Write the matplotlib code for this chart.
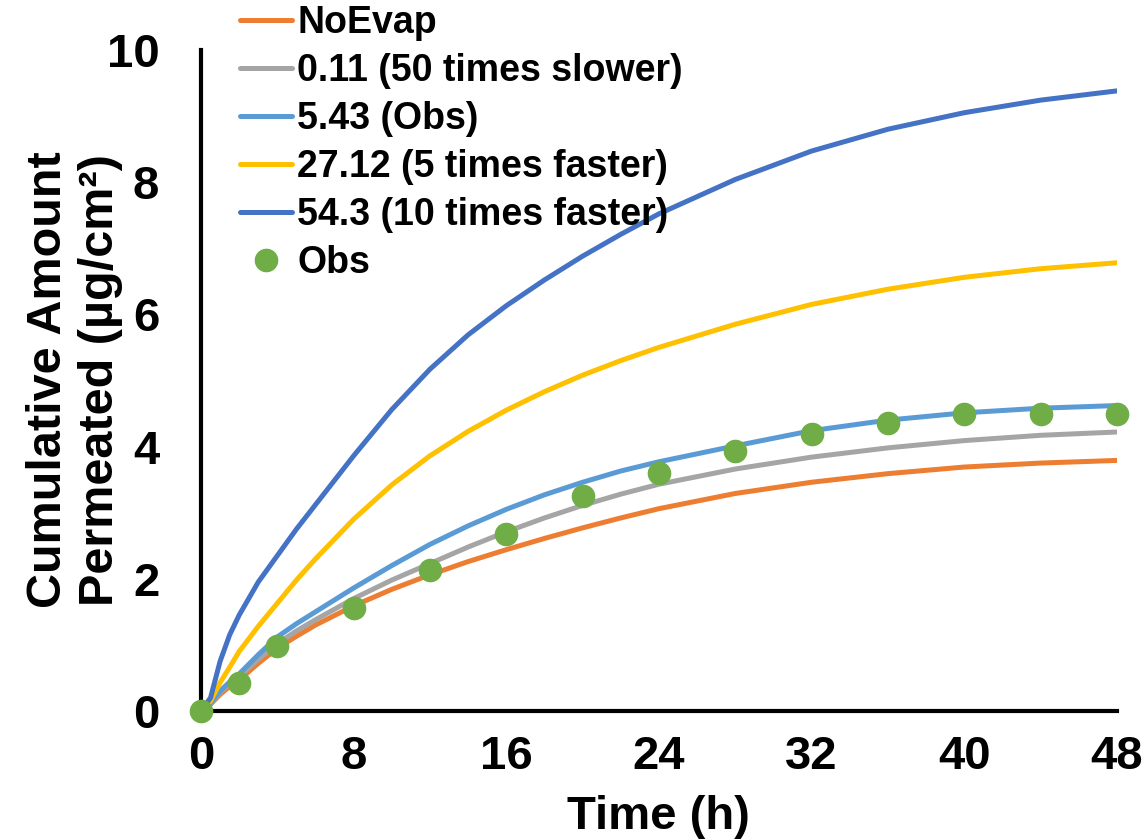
import matplotlib
matplotlib.use("Agg")
import matplotlib.pyplot as plt

plt.rcParams['font.family'] = ['Liberation Sans', 'DejaVu Sans']
plt.rcParams['font.weight'] = 'bold'

# model time grid (h)
t_model = [0, 0.5, 1, 1.5, 2, 3, 4, 5, 6, 8, 10, 12, 14, 16, 18, 20, 22, 24, 28, 32, 36, 40, 44, 48]

# cumulative amount permeated (ug/cm2)
no_evap = [0, 0.10, 0.25, 0.37, 0.47, 0.72, 0.95, 1.13, 1.30, 1.59, 1.84, 2.06, 2.26, 2.44,
           2.61, 2.77, 2.92, 3.06, 3.29, 3.46, 3.59, 3.69, 3.75, 3.79]
slower_50 = [0, 0.11, 0.28, 0.41, 0.52, 0.78, 1.02, 1.21, 1.38, 1.70, 1.98, 2.23, 2.48, 2.71,
             2.92, 3.11, 3.28, 3.43, 3.66, 3.84, 3.98, 4.09, 4.17, 4.22]
obs_rate = [0, 0.12, 0.30, 0.44, 0.56, 0.85, 1.12, 1.32, 1.50, 1.86, 2.20, 2.52, 2.80, 3.05,
            3.27, 3.46, 3.63, 3.77, 4.01, 4.24, 4.40, 4.51, 4.58, 4.62]
faster_5 = [0, 0.15, 0.43, 0.66, 0.90, 1.28, 1.63, 1.98, 2.30, 2.90, 3.42, 3.86, 4.23, 4.55,
            4.83, 5.08, 5.30, 5.50, 5.85, 6.15, 6.38, 6.56, 6.69, 6.78]
faster_10 = [0, 0.20, 0.75, 1.15, 1.45, 1.95, 2.35, 2.75, 3.12, 3.86, 4.56, 5.17, 5.69, 6.13,
             6.52, 6.88, 7.21, 7.52, 8.04, 8.47, 8.80, 9.05, 9.24, 9.38]

# observed data
obs_t = [0, 2, 4, 8, 12, 16, 20, 24, 28, 32, 36, 40, 44, 48]
obs_y = [0, 0.42, 0.99, 1.56, 2.13, 2.68, 3.25, 3.60, 3.93, 4.19, 4.36, 4.49, 4.49, 4.49]

series = [
    ("NoEvap", no_evap, "#ED7D31"),
    ("0.11 (50 times slower)", slower_50, "#A5A5A5"),
    ("5.43 (Obs)", obs_rate, "#5B9BD5"),
    ("27.12 (5 times faster)", faster_5, "#FFC000"),
    ("54.3 (10 times faster)", faster_10, "#4472C4"),
]

fig = plt.figure(figsize=(11.42, 8.4), dpi=100)
ax = fig.add_axes([0.176, 0.1536, 0.802, 0.787])

for label, vals, color in series:
    ax.plot(t_model, vals, color=color, lw=3.6, label=label,
            solid_capstyle='round', solid_joinstyle='round')
ax.plot(obs_t, obs_y, 'o', color="#70AD47", ms=16, label="Obs", clip_on=False, zorder=5)

ax.set_xlim(0, 48)
ax.set_ylim(0, 10)
ax.set_xticks(range(0, 49, 8))
ax.set_yticks(range(0, 11, 2))
ax.tick_params(length=0, labelsize=34)
ax.tick_params(axis='x', pad=17)
ax.tick_params(axis='y', pad=30)
for lab in ax.get_xticklabels() + ax.get_yticklabels():
    lab.set_fontweight('bold')

for side in ['top', 'right']:
    ax.spines[side].set_visible(False)
for side in ['left', 'bottom']:
    ax.spines[side].set_linewidth(3)
    ax.spines[side].set_color('black')

ax.set_xlabel("Time (h)", fontsize=34, fontweight='bold', labelpad=12)
fig.text(0.0655, 0.5476, "Cumulative Amount\nPermeated (µg/cm²)", fontsize=35,
         fontweight='bold', rotation=90, ha='center', va='center',
         multialignment='center', linespacing=1.2)

fig.legend(loc='upper left', bbox_to_anchor=(0.197, 1.012), frameon=False,
           prop={'size': 27, 'weight': 'bold'}, handlelength=1.4, handletextpad=0.13,
           labelspacing=0.32, borderaxespad=0)

fig.savefig("out.png", dpi=100)
